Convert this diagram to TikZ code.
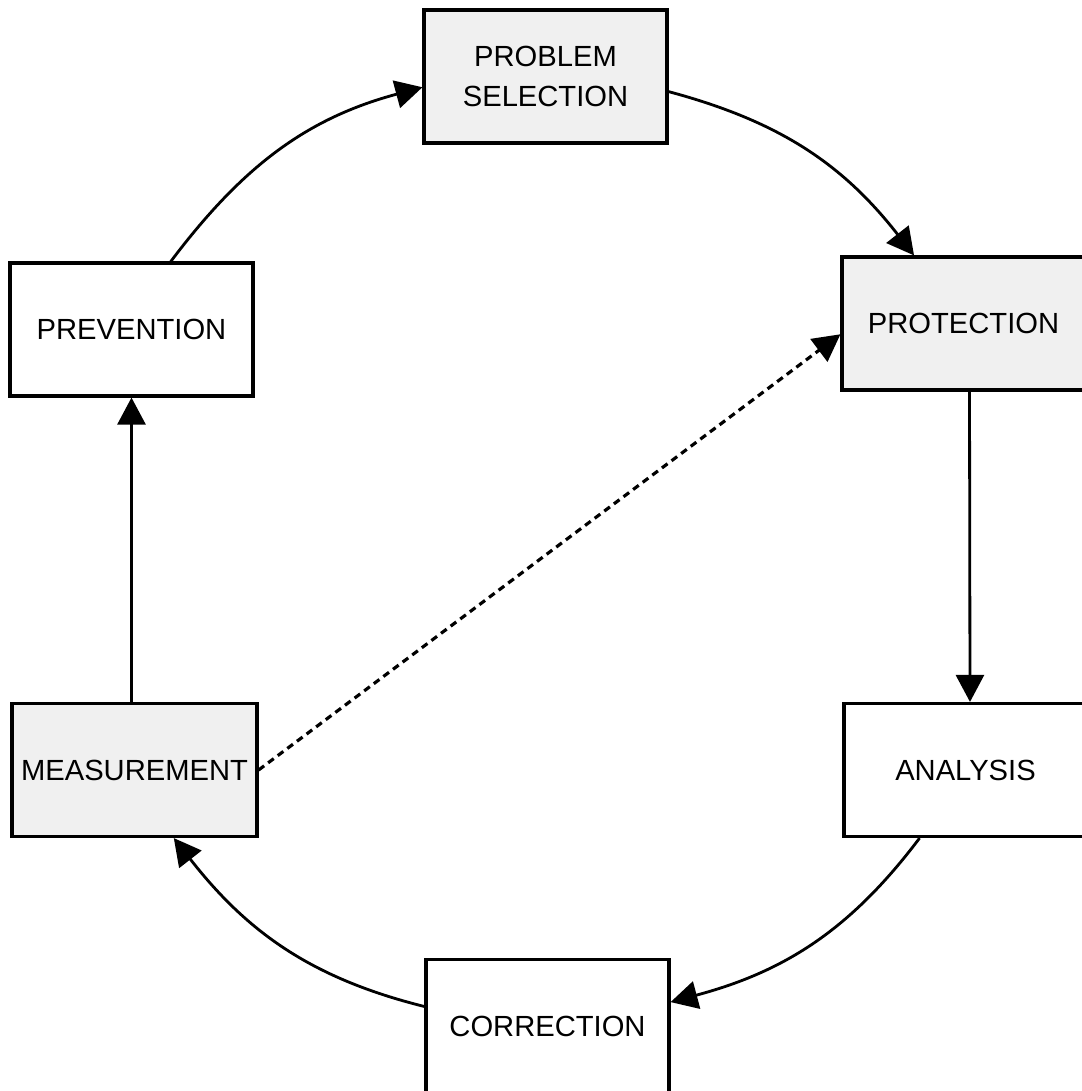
\documentclass[tikz,border=0pt]{standalone}
\usepackage{fontspec}
\setmainfont{Liberation Sans}
\usetikzlibrary{arrows.meta}
\definecolor{speckle}{RGB}{240,240,240}

\tikzset{
  stage/.style={draw=black, line width=1.8pt, minimum width=4.86cm, minimum height=2.66cm,
    inner sep=0pt, align=center, font=\fontsize{16.6}{22.7}\selectfont},
  shadedstage/.style={stage, fill=speckle},
  flow/.style={line width=1.6pt, -{Triangle[length=0.54cm, width=0.56cm]}},
}

\begin{document}
\begin{tikzpicture}[x=0.02cm, y=0.02cm]
  \useasboundingbox (0,0) rectangle (1081,-1091);

  % stages of the cycle
  \node[shadedstage] (probsel) at (545.5,-76.5) {PROBLEM\\SELECTION};
  \node[shadedstage] (protect) at (963.5,-323.5) {PROTECTION};
  \node[stage] (analysis) at (965.5,-770) {ANALYSIS};
  \node[stage] (correct) at (547.5,-1026) {CORRECTION};
  \node[shadedstage, minimum width=4.9cm] (measure) at (134.5,-770) {MEASUREMENT};
  \node[stage] (prevent) at (131.5,-329.5) {PREVENTION};

  % cycle arrows
  \draw[flow] (prevent.60) to[out=53, in=195] (probsel.185);
  \draw[flow] (probsel.-7) to[out=-15, in=128] (protect.126);
  \draw[flow] ([xshift=0.12cm]protect.south) -- ([xshift=0.09cm]analysis.north);
  \draw[flow] (analysis.236) to[out=-127, in=15] (correct.11);
  \draw[flow] (correct.171) to[out=166, in=-52] (measure.-60);
  \draw[flow] (measure.north -| prevent.south) -- (prevent.south);

  % shortcut
  \draw[flow, line width=1.8pt, dash pattern=on 0.14cm off 0.1cm] (measure.east) -- (protect.185);
\end{tikzpicture}
\end{document}
